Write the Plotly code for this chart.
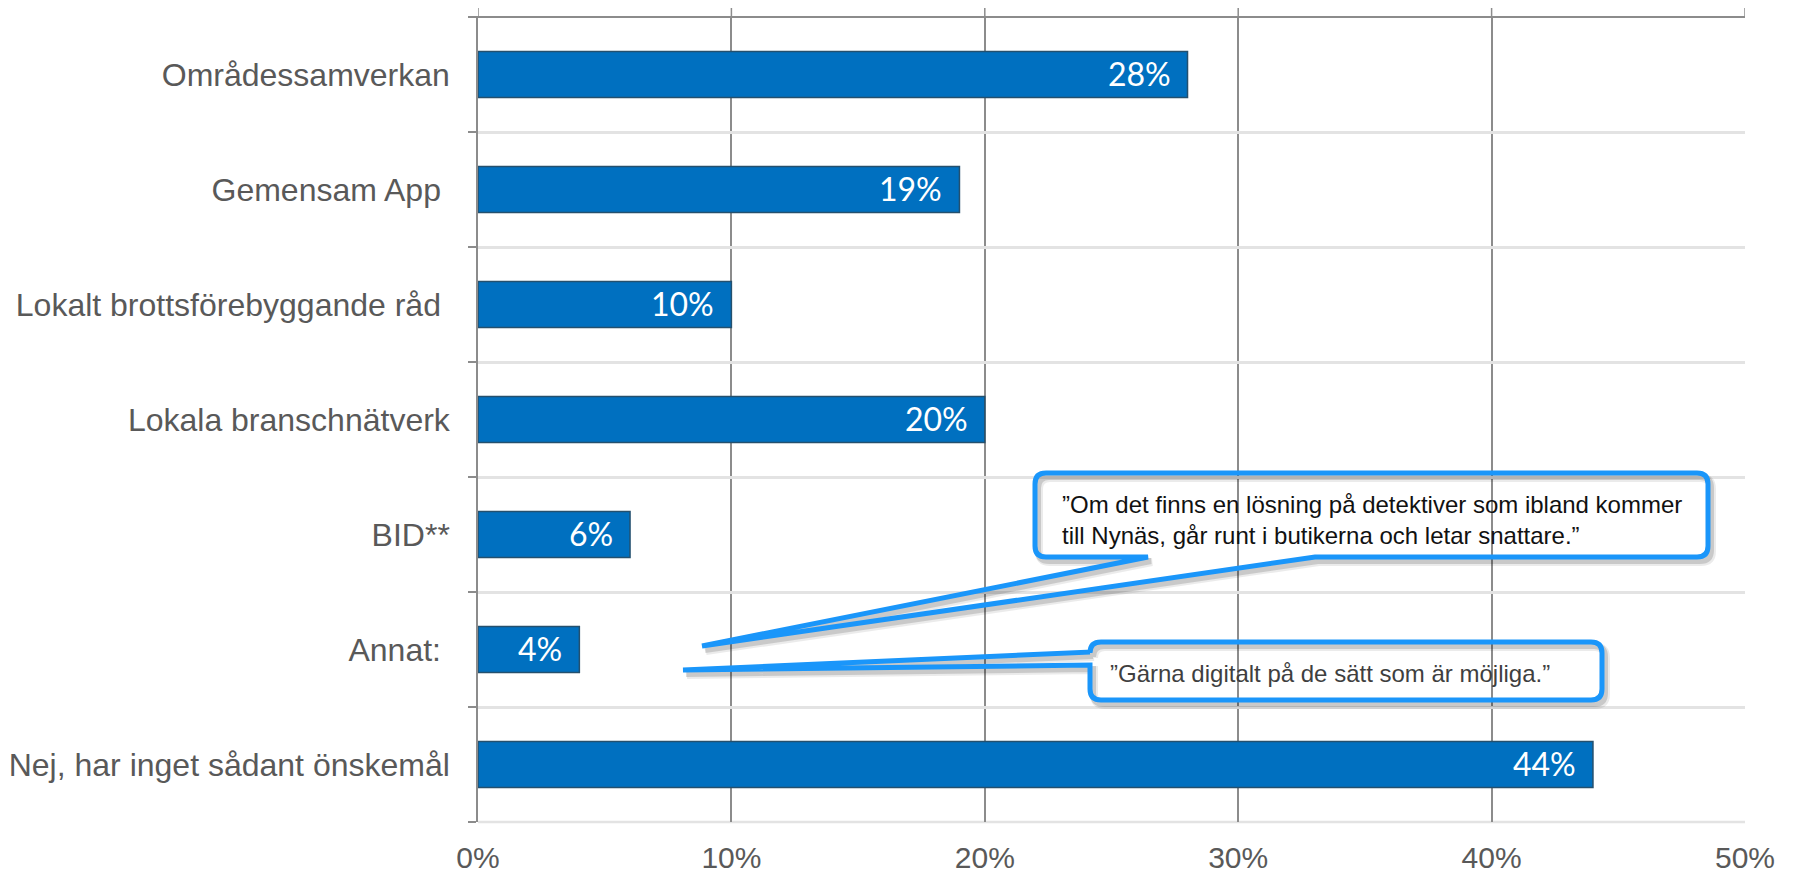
import plotly.graph_objects as go

# ---------------- data ----------------
categories = [
    "Områdessamverkan",
    "Gemensam App\u00a0",
    "Lokalt brottsförebyggande råd\u00a0",
    "Lokala branschnätverk",
    "BID**",
    "Annat:\u00a0",
    "Nej, har inget sådant önskemål",
]
values = [28, 19, 10, 20, 6, 4, 44]
bar_labels = ["28%", "19%", "10%", "20%", "6%", "4%", "44%"]
x_tick_values = [0, 10, 20, 30, 40, 50]
x_tick_labels = ["0%", "10%", "20%", "30%", "40%", "50%"]
quote_1 = "”Om det finns en lösning på detektiver som ibland kommer<br>till Nynäs, går runt i butikerna och letar snattare.”"
quote_2 = "”Gärna digitalt på de sätt som är möjliga.”"

# ---------------- layout geometry (screen pixels) ----------------
SCREEN_W, SCREEN_H = 1794, 875
OFF = 8  # default page body margin
W_FIG, H_FIG = SCREEN_W - OFF, SCREEN_H - OFF
L, R, T, B = 478, 1745, 17, 822
PW, PH = R - L, B - T


def px(p):
    return (p - L) / PW


def py(p):
    return (B - p) / PH


def path_from_pixels(cmds):
    out = []
    for c in cmds:
        if c[0] == "Z":
            out.append("Z")
        elif c[0] == "Q":
            _, x1, y1, x2, y2 = c
            out.append(f"Q{px(x1):.5f},{py(y1):.5f} {px(x2):.5f},{py(y2):.5f}")
        else:
            op, x, y = c
            out.append(f"{op}{px(x):.5f},{py(y):.5f}")
    return " ".join(out)


def callout_bottom_tail(x0, y0, x1, y1, r, a, b, tip, dx=0, dy=0):
    x0, x1, a, b = x0 + dx, x1 + dx, a + dx, b + dx
    y0, y1 = y0 + dy, y1 + dy
    tx, ty = tip[0] + dx, tip[1] + dy
    return path_from_pixels([
        ("M", x0 + r, y0), ("L", x1 - r, y0), ("Q", x1, y0, x1, y0 + r),
        ("L", x1, y1 - r), ("Q", x1, y1, x1 - r, y1),
        ("L", b, y1), ("L", tx, ty), ("L", a, y1),
        ("L", x0 + r, y1), ("Q", x0, y1, x0, y1 - r),
        ("L", x0, y0 + r), ("Q", x0, y0, x0 + r, y0), ("Z",),
    ])


def callout_left_tail(x0, y0, x1, y1, r, a, b, tip, dx=0, dy=0):
    x0, x1 = x0 + dx, x1 + dx
    y0, y1, a, b = y0 + dy, y1 + dy, a + dy, b + dy
    tx, ty = tip[0] + dx, tip[1] + dy
    return path_from_pixels([
        ("M", x0 + r, y0), ("L", x1 - r, y0), ("Q", x1, y0, x1, y0 + r),
        ("L", x1, y1 - r), ("Q", x1, y1, x1 - r, y1),
        ("L", x0 + r, y1), ("Q", x0, y1, x0, y1 - r),
        ("L", x0, b), ("L", tx, ty), ("L", x0, a),
        ("L", x0, y0 + r), ("Q", x0, y0, x0 + r, y0), ("Z",),
    ])


GRID_DARK = "#8C8C8C"
GRID_LIGHT = "#E3E3E3"
BLUE_BAR = "#0070C0"
CALLOUT_BLUE = "#1A96FA"

fig = go.Figure()
fig.add_trace(go.Bar(
    y=categories,
    x=values,
    orientation="h",
    width=0.4,
    marker=dict(color=BLUE_BAR, line=dict(color="#24506E", width=1.5)),
    hoverinfo="skip",
))

annotations = []
for cat, v, lab in zip(categories, values, bar_labels):
    annotations.append(dict(
        x=v, y=cat, xref="x", yref="y", text=lab, showarrow=False,
        xanchor="right", yanchor="middle", xshift=-15, yshift=1,
        font=dict(family="Lato, sans-serif", size=32, color="white"),
    ))

annotations.append(dict(
    x=px(1060), y=py(520), xref="paper", yref="paper", text=quote_1,
    showarrow=False, xanchor="left", yanchor="middle", align="left",
    font=dict(family="Liberation Sans, Arial, sans-serif", size=24, color="#111111"),
))
annotations.append(dict(
    x=px(1108), y=py(673), xref="paper", yref="paper", text=quote_2,
    showarrow=False, xanchor="left", yanchor="middle", align="left",
    font=dict(family="Liberation Sans, Arial, sans-serif", size=24, color="#3F3F3F"),
))

shapes = []
# gridline extensions above the plot top
for xv in x_tick_values:
    shapes.append(dict(type="line", xref="x", yref="paper", x0=xv, x1=xv,
                       y0=1, y1=1 + 10 / PH, line=dict(color=GRID_DARK, width=1.5), layer="below"))
# top dark boundary and bottom light boundary
shapes.append(dict(type="line", xref="paper", yref="paper", x0=px(470), x1=1, y0=1, y1=1,
                   line=dict(color=GRID_DARK, width=2), layer="above"))
shapes.append(dict(type="line", xref="paper", yref="paper", x0=0, x1=1, y0=0, y1=0,
                   line=dict(color=GRID_LIGHT, width=2.5), layer="below"))

c1 = dict(x0=1035, y0=473, x1=1708, y1=557, r=11, a=1148, b=1315, tip=(702, 646))
c2 = dict(x0=1090, y0=642, x1=1602, y1=700, r=11, a=652, b=665, tip=(683, 670))

for dx, dy, w, op in [(4, 5, 8, 0.08), (3, 4, 6, 0.14)]:
    shapes.append(dict(type="path", xref="paper", yref="paper",
                       path=callout_bottom_tail(**c1, dx=dx, dy=dy),
                       line=dict(color=f"rgba(0,0,0,{op})", width=w), layer="above"))
    shapes.append(dict(type="path", xref="paper", yref="paper",
                       path=callout_left_tail(**c2, dx=dx, dy=dy),
                       line=dict(color=f"rgba(0,0,0,{op})", width=w), layer="above"))
shapes.append(dict(type="path", xref="paper", yref="paper", path=callout_bottom_tail(**c1),
                   line=dict(color=CALLOUT_BLUE, width=5), layer="above"))
shapes.append(dict(type="path", xref="paper", yref="paper", path=callout_left_tail(**c2),
                   line=dict(color=CALLOUT_BLUE, width=5), layer="above"))

fig.update_layout(
    width=W_FIG, height=H_FIG,
    margin=dict(l=L - OFF, r=SCREEN_W - R, t=T - OFF, b=SCREEN_H - B, autoexpand=False),
    paper_bgcolor="white", plot_bgcolor="white",
    showlegend=False, hovermode=False,
    annotations=annotations, shapes=shapes,
    xaxis=dict(
        range=[0, 50], tickmode="array", tickvals=x_tick_values, ticktext=x_tick_labels,
        showgrid=True, gridcolor=GRID_DARK, gridwidth=1.5, zeroline=False,
        showline=False, ticks="", ticklabelstandoff=15,
        tickfont=dict(family="Liberation Sans, Arial, sans-serif", size=30, color="#595959"),
        fixedrange=True,
    ),
    yaxis=dict(
        categoryorder="array", categoryarray=categories[::-1],
        tickson="boundaries", ticks="outside", ticklen=8, tickwidth=1.5, tickcolor=GRID_DARK,
        showgrid=True, gridcolor=GRID_LIGHT, gridwidth=2.5,
        showline=True, linecolor=GRID_DARK, linewidth=1.5, zeroline=False,
        ticklabelstandoff=20,
        tickfont=dict(family="Liberation Sans, Arial, sans-serif", size=32, color="#595959"),
        fixedrange=True,
    ),
)

fig.write_html("out.html")
